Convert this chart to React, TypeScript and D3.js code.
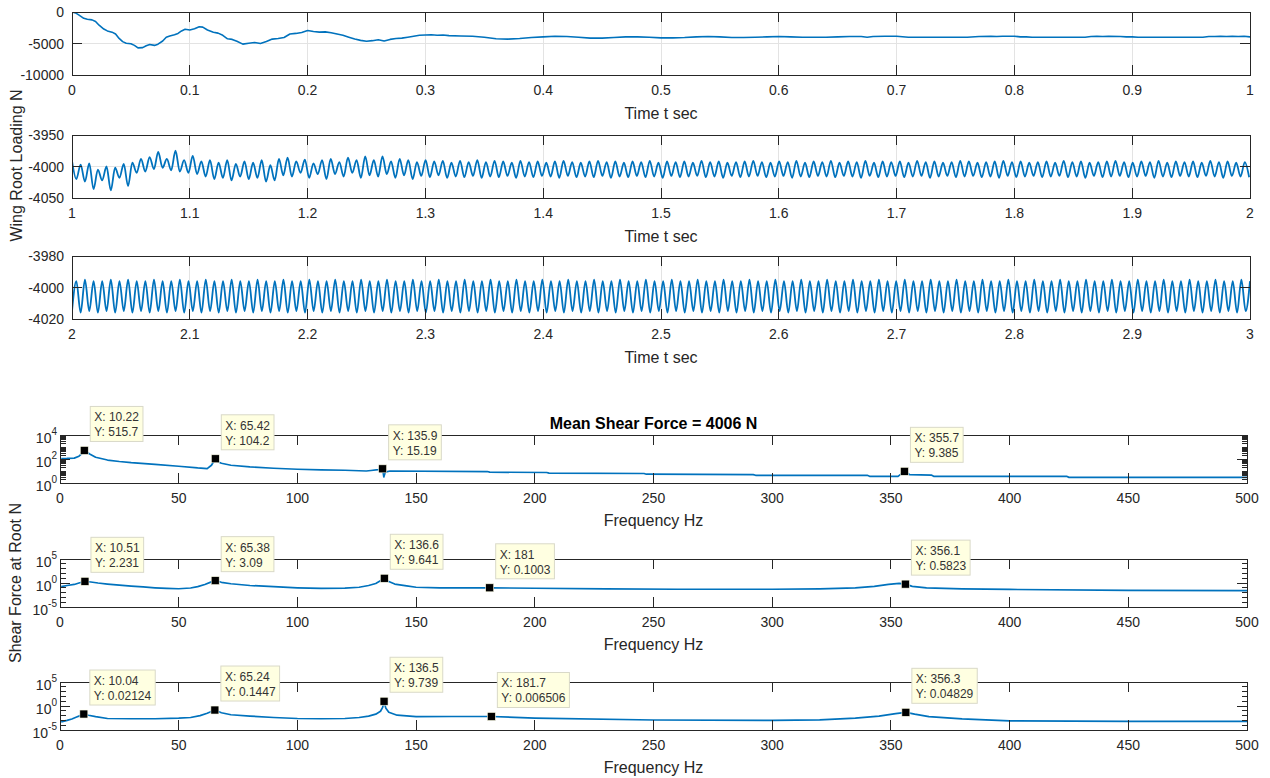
import React from 'react';
import * as d3 from 'd3';

type Pt = [number, number];
type Tip = [number, number, string, string];

const FONT = '"Liberation Sans", Arial, Helvetica, sans-serif';
const INK = '#262626';
const GRID = '#e3e3e3';
const BLUE = '#0072BD';

// ---- time domain data (wing root loading, N) ----
const timeTicks1 = [0, 0.1, 0.2, 0.3, 0.4, 0.5, 0.6, 0.7, 0.8, 0.9, 1];
const timeTicks2 = [1, 1.1, 1.2, 1.3, 1.4, 1.5, 1.6, 1.7, 1.8, 1.9, 2];
const timeTicks3 = [2, 2.1, 2.2, 2.3, 2.4, 2.5, 2.6, 2.7, 2.8, 2.9, 3];
const loadTicks1 = [0, -5000, -10000];
const loadTicks2 = [-3950, -4000, -4050];
const loadTicks3 = [-3980, -4000, -4020];

// 0..1 s, slowly settling load
const load1: Pt[] = [
  [0, 0], [0.003, -150], [0.006, -500], [0.01, -1000], [0.013, -1150], [0.017, -1250], [0.02, -1500],
  [0.023, -2100], [0.027, -2700], [0.03, -3000], [0.034, -3200], [0.037, -3500], [0.04, -4200],
  [0.043, -4700], [0.046, -4950], [0.05, -5050], [0.053, -5300], [0.056, -5700], [0.06, -5650],
  [0.063, -5350], [0.066, -5150], [0.07, -5300], [0.073, -5100], [0.077, -4600], [0.08, -4000],
  [0.083, -3800], [0.087, -3600], [0.09, -3400], [0.093, -3000], [0.096, -2750], [0.1, -2850],
  [0.104, -2650], [0.108, -2350], [0.111, -2400], [0.115, -2850], [0.12, -3200], [0.124, -3350],
  [0.128, -3700], [0.132, -4250], [0.136, -4350], [0.14, -4650], [0.145, -5100], [0.15, -4950],
  [0.155, -4850], [0.16, -5000], [0.165, -4700], [0.17, -4300], [0.175, -4200], [0.18, -4050],
  [0.185, -3500], [0.19, -3400], [0.195, -3250], [0.2, -2950], [0.205, -3100], [0.21, -3200],
  [0.215, -3150], [0.22, -3300], [0.225, -3500], [0.23, -3700], [0.235, -4000], [0.24, -4300],
  [0.245, -4500], [0.25, -4650], [0.255, -4550], [0.26, -4400], [0.265, -4600], [0.27, -4350],
  [0.275, -4200], [0.28, -4150], [0.285, -4000], [0.29, -3850], [0.295, -3700], [0.3, -3650],
  [0.305, -3600], [0.31, -3700], [0.315, -3650], [0.32, -3750], [0.33, -3800], [0.34, -3850],
  [0.35, -4000], [0.36, -4250], [0.37, -4300], [0.38, -4200], [0.39, -4050], [0.4, -3950],
  [0.41, -3850], [0.42, -3900], [0.43, -4000], [0.44, -4150], [0.45, -4150], [0.46, -4050],
  [0.47, -3950], [0.48, -3950], [0.49, -4000], [0.5, -4100], [0.51, -4100], [0.52, -4050],
  [0.53, -3950], [0.54, -3900], [0.55, -3950], [0.56, -4050], [0.57, -4050], [0.58, -4000],
  [0.59, -3950], [0.6, -3900], [0.61, -3950], [0.62, -4000], [0.63, -4000], [0.64, -4000],
  [0.65, -3950], [0.66, -3900], [0.67, -3900], [0.675, -4000], [0.68, -3900], [0.69, -3850],
  [0.7, -3850], [0.71, -4000], [0.72, -4000], [0.74, -4000], [0.76, -4000], [0.77, -3900],
  [0.78, -3850], [0.785, -3900], [0.79, -3850], [0.8, -3850], [0.805, -3950], [0.81, -3950],
  [0.815, -4000], [0.83, -4000], [0.85, -4000], [0.86, -4000], [0.865, -3900], [0.87, -3850],
  [0.875, -3900], [0.88, -3850], [0.89, -3900], [0.895, -3950], [0.9, -3950], [0.905, -4000],
  [0.92, -4000], [0.94, -4000], [0.96, -4000], [0.965, -3900], [0.97, -3900], [0.975, -3850],
  [0.98, -3900], [0.985, -3850], [0.99, -3900], [0.995, -3850], [1.0, -3950],
];

// 1..2 s, peak/trough values of each half cycle (136.6 Hz)
const waveFreq2 = 136.6;
const load2 = [
  -3991, -4020, -3997, -4024, -3995, -4036, -4005, -4022, -4000, -4038,
  -4002, -4018, -3996, -4031, -3994, -4010, -3988, -4008, -3985, -4004,
  -3977, -4002, -3988, -4006, -3975, -4008, -3990, -4010, -3983, -4012,
  -3992, -4016, -3990, -4020, -3994, -4018, -3990, -4022, -3996, -4016,
  -3992, -4020, -3994, -4018, -3990, -4024, -3998, -4022, -3988, -4014,
  -3986, -4016, -3992, -4010, -3989, -4018, -3995, -4012, -3990, -4020,
  -3988, -4012, -3993, -4016, -3986, -4010, -3990, -4018, -3984, -4014,
  -3990, -4016, -3984, -4012, -3992, -4018, -3988, -4014, -3990, -4020,
  -3993, -4015, -3990, -4017, -3992, -4014, -3991, -4018, -3994, -4016,
  -3991, -4017, -3993, -4015, -3990, -4018, -3993, -4016, -3991, -4017,
  -3992, -4015, -3994, -4018, -3991, -4016, -3993, -4017, -3992, -4015,
  -3994, -4016, -3992, -4018, -3991, -4015, -3993, -4017, -3994, -4016,
  -3992, -4017, -3991, -4015, -3993, -4018, -3992, -4016, -3994, -4017,
  -3992, -4015, -3993, -4017, -3991, -4016, -3994, -4018, -3992, -4015,
  -3993, -4017, -3992, -4016, -3994, -4015, -3991, -4017, -3993, -4016,
  -3992, -4018, -3994, -4015, -3993, -4017, -3992, -4016, -3991, -4015,
  -3993, -4017, -3994, -4016, -3992, -4015, -3993, -4018, -3991, -4016,
  -3994, -4017, -3992, -4015, -3993, -4016, -3991, -4017, -3994, -4015,
  -3992, -4016, -3993, -4018, -3991, -4015, -3994, -4017, -3992, -4016,
  -3993, -4015, -3992, -4017, -3994, -4016, -3991, -4015, -3993, -4018,
  -3992, -4016, -3994, -4015, -3993, -4017, -3991, -4016, -3992, -4015,
  -3994, -4017, -3993, -4016, -3992, -4018, -3991, -4015, -3993, -4017,
  -3992, -4016, -3994, -4015, -3993, -4017, -3992, -4016, -3994, -4015,
  -3991, -4017, -3993, -4016, -3992, -4018, -3994, -4015, -3993, -4017,
  -3992, -4016, -3991, -4015, -3993, -4017, -3994, -4016, -3992, -4015,
  -3993, -4018, -3991, -4016, -3994, -4017, -3992, -4015, -3993, -4016,
  -3992, -4017, -3994, -4015, -3991, -4016, -3993, -4018, -3992, -4015,
  -3994, -4016, -3993, -4017,
];

// 2..3 s, peak/trough values of each half cycle (136.5 Hz)
const waveFreq3 = 136.5;
const load3 = [
  -4015, -3996, -4016, -3995, -4015, -3996, -4016, -3996, -4015, -3995,
  -4016, -3996, -4015, -3995, -4016, -3996, -4015, -3996, -4016, -3995,
  -4015, -3996, -4016, -3996, -4015, -3995, -4016, -3996, -4015, -3996,
  -4016, -3995, -4015, -3996, -4016, -3996, -4015, -3995, -4016, -3996,
  -4015, -3996, -4016, -3995, -4015, -3996, -4016, -3996, -4015, -3995,
  -4016, -3996, -4015, -3996, -4016, -3995, -4015, -3996, -4016, -3996,
  -4015, -3995, -4016, -3996, -4015, -3996, -4016, -3995, -4015, -3996,
  -4016, -3996, -4015, -3995, -4016, -3996, -4015, -3996, -4016, -3995,
  -4015, -3996, -4016, -3996, -4015, -3995, -4016, -3996, -4015, -3996,
  -4016, -3995, -4015, -3996, -4016, -3996, -4015, -3995, -4016, -3996,
  -4015, -3996, -4016, -3995, -4015, -3996, -4016, -3996, -4015, -3995,
  -4016, -3996, -4015, -3996, -4016, -3995, -4015, -3996, -4016, -3996,
  -4015, -3995, -4016, -3996, -4015, -3996, -4016, -3995, -4015, -3996,
  -4016, -3996, -4015, -3995, -4016, -3996, -4015, -3996, -4016, -3995,
  -4015, -3996, -4016, -3996, -4015, -3995, -4016, -3996, -4015, -3996,
  -4016, -3995, -4015, -3996, -4016, -3996, -4015, -3995, -4016, -3996,
  -4015, -3996, -4016, -3995, -4015, -3996, -4016, -3996, -4015, -3995,
  -4016, -3996, -4015, -3996, -4016, -3995, -4015, -3996, -4016, -3996,
  -4015, -3995, -4016, -3996, -4015, -3996, -4016, -3995, -4015, -3996,
  -4016, -3996, -4015, -3995, -4016, -3996, -4015, -3996, -4016, -3995,
  -4015, -3996, -4016, -3996, -4015, -3995, -4016, -3996, -4015, -3996,
  -4016, -3995, -4015, -3996, -4016, -3996, -4015, -3995, -4016, -3996,
  -4015, -3996, -4016, -3995, -4015, -3996, -4016, -3996, -4015, -3995,
  -4016, -3996, -4015, -3996, -4016, -3995, -4015, -3996, -4016, -3996,
  -4015, -3995, -4016, -3996, -4015, -3996, -4016, -3995, -4015, -3996,
  -4016, -3996, -4015, -3995, -4016, -3996, -4015, -3996, -4016, -3995,
  -4015, -3996, -4016, -3996, -4015, -3995, -4016, -3996, -4015, -3996,
  -4016, -3995, -4015, -3996,
];

// ---- frequency domain data (shear force at root, N) ----
const freqTicks = [0, 50, 100, 150, 200, 250, 300, 350, 400, 450, 500];
const shearExp4 = [0, 2, 4];
const shearExp5 = [-5, 0, 5];
const shearExp6 = [-5, 0, 5];

const spec4: Pt[] = [
  [0.5, 110], [3, 112], [6, 118], [8, 170], [9.3, 300], [10.22, 515.7], [11, 420], [12.5, 260],
  [15, 140], [20, 82], [25, 62], [30, 50], [40, 36], [50, 25], [58, 18], [62, 16], [63.8, 30],
  [65.42, 104.2], [66.5, 60], [68, 44], [72, 30], [80, 22], [90, 17], [100, 14], [110, 12.5],
  [120, 11.5], [129, 10], [131, 11], [134, 13], [135.9, 15.19], [136.4, 3.2], [137, 8], [139, 10],
  [180, 9], [181, 8], [205, 7.5], [206, 6.6], [246, 6.2], [247, 5.4], [292, 5.0], [293, 4.4],
  [340, 4.4], [341, 3.6], [353, 3.6], [355.7, 9.385], [358, 4.9], [367, 4.6], [368, 3.6],
  [424, 3.6], [425, 2.95], [500, 2.95],
];
const spec5: Pt[] = [
  [0.5, 0.17], [3, 0.3], [6, 0.5], [8, 1.0], [10.51, 2.231], [13, 1.6], [16, 1.0], [20, 0.6],
  [25, 0.35], [30, 0.23], [35, 0.15], [40, 0.1], [45, 0.075], [50, 0.063], [55, 0.09], [58, 0.18],
  [61, 0.5], [63.5, 1.5], [65.38, 3.09], [68, 1.4], [72, 0.7], [80, 0.3], [90, 0.17], [100, 0.1],
  [110, 0.075], [120, 0.085], [126, 0.13], [130, 0.3], [133, 0.8], [135.5, 4], [136.6, 9.641],
  [138, 2.5], [141, 0.6], [146, 0.25], [150, 0.13], [160, 0.1], [170, 0.1], [181, 0.1003],
  [200, 0.08], [230, 0.06], [260, 0.05], [300, 0.05], [320, 0.06], [335, 0.1], [343, 0.2],
  [349, 0.5], [353.5, 0.8], [356.1, 0.5823], [359, 0.2], [365, 0.1], [380, 0.06], [400, 0.045],
  [450, 0.03], [500, 0.025],
];
const spec6: Pt[] = [
  [0.5, 5e-4], [3, 1e-3], [5, 2e-3], [7, 5e-3], [8.5, 0.01], [10.04, 0.02124], [12, 0.012],
  [15, 0.006], [20, 0.0025], [30, 0.0022], [40, 0.0022], [50, 0.003], [55, 0.004], [59, 0.01],
  [62, 0.03], [65.24, 0.1447], [68, 0.04], [72, 0.015], [80, 0.008], [90, 0.004], [100, 0.0025],
  [110, 0.0022], [120, 0.0025], [126, 0.004], [130, 0.008], [133, 0.02], [135, 0.08],
  [135.9, 0.5], [136.5, 9.739], [137.2, 0.4], [138.5, 0.05], [142, 0.012], [150, 0.006],
  [165, 0.0065], [181.7, 0.006506], [200, 0.003], [250, 0.0012], [300, 0.001], [320, 0.0013],
  [335, 0.003], [345, 0.008], [352, 0.025], [356.3, 0.04829], [360, 0.02], [366, 0.006],
  [380, 0.002], [400, 0.0008], [450, 0.0006], [500, 0.0006],
];

const tips4: Tip[] = [
  [10.22, 515.7, 'X: 10.22', 'Y: 515.7'],
  [65.42, 104.2, 'X: 65.42', 'Y: 104.2'],
  [135.9, 15.19, 'X: 135.9', 'Y: 15.19'],
  [355.7, 9.385, 'X: 355.7', 'Y: 9.385'],
];
const tips5: Tip[] = [
  [10.51, 2.231, 'X: 10.51', 'Y: 2.231'],
  [65.38, 3.09, 'X: 65.38', 'Y: 3.09'],
  [136.6, 9.641, 'X: 136.6', 'Y: 9.641'],
  [181, 0.1003, 'X: 181', 'Y: 0.1003'],
  [356.1, 0.5823, 'X: 356.1', 'Y: 0.5823'],
];
const tips6: Tip[] = [
  [10.04, 0.02124, 'X: 10.04', 'Y: 0.02124'],
  [65.24, 0.1447, 'X: 65.24', 'Y: 0.1447'],
  [136.5, 9.739, 'X: 136.5', 'Y: 9.739'],
  [181.7, 0.006506, 'X: 181.7', 'Y: 0.006506'],
  [356.3, 0.04829, 'X: 356.3', 'Y: 0.04829'],
];

let ctx: CanvasRenderingContext2D | null = null;
function textWidth(s: string, font: string) {
  if (!ctx) ctx = document.createElement('canvas').getContext('2d');
  if (!ctx) return s.length * 6.5;
  ctx.font = font;
  return ctx.measureText(s).width;
}

const TL = 72, TR = 1250;
const FL = 60, FR = 1247;
const TICK = 10;

function TimePanel({ id, top, bottom, xTicks, yTicks, pts, smooth }: {
  id: string; top: number; bottom: number; xTicks: number[]; yTicks: number[]; pts: Pt[]; smooth?: boolean;
}) {
  const x = d3.scaleLinear().domain([xTicks[0], xTicks[xTicks.length - 1]]).range([TL, TR]);
  const y = d3.scaleLinear().domain(d3.extent(yTicks) as [number, number]).range([bottom, top]);
  const line = d3.line<Pt>().x(d => x(d[0])).y(d => y(d[1]))
    .curve(smooth ? d3.curveMonotoneX : d3.curveLinear);
  return (
    <g>
      <clipPath id={id}><rect x={TL} y={top} width={TR - TL} height={bottom - top} /></clipPath>
      <g shapeRendering="crispEdges">
        {xTicks.slice(1, -1).map(t => (
          <line key={'gx' + t} x1={x(t)} x2={x(t)} y1={top} y2={bottom} stroke={GRID} />
        ))}
        {yTicks.map(t => (
          <line key={'gy' + t} x1={TL} x2={TR} y1={y(t)} y2={y(t)} stroke={GRID} />
        ))}
      </g>
      <path d={line(pts) || ''} fill="none" stroke={BLUE} strokeWidth={smooth ? 1.8 : 1.6}
        strokeLinejoin="round" clipPath={`url(#${id})`} />
      <g shapeRendering="crispEdges" stroke={INK}>
        <rect x={TL} y={top} width={TR - TL} height={bottom - top} fill="none" />
        {xTicks.map(t => (
          <g key={'tx' + t}>
            <line x1={x(t)} x2={x(t)} y1={bottom} y2={bottom - TICK} />
            <line x1={x(t)} x2={x(t)} y1={top} y2={top + TICK} />
          </g>
        ))}
        {yTicks.map(t => (
          <g key={'ty' + t}>
            <line x1={TL} x2={TL + TICK} y1={y(t)} y2={y(t)} />
            <line x1={TR} x2={TR - TICK} y1={y(t)} y2={y(t)} />
          </g>
        ))}
      </g>
      <g fontFamily={FONT} fontSize={14} fill={INK}>
        {xTicks.map(t => (
          <text key={'lx' + t} x={x(t)} y={bottom + 15} textAnchor="middle" dominantBaseline="central">{String(t)}</text>
        ))}
        {yTicks.map(t => (
          <text key={'ly' + t} x={TL - 8} y={y(t)} textAnchor="end" dominantBaseline="central">{String(t)}</text>
        ))}
        <text x={(TL + TR) / 2} y={bottom + 38} fontSize={16} textAnchor="middle" dominantBaseline="central">Time t sec</text>
      </g>
    </g>
  );
}

function FreqPanel({ id, top, bottom, exps, denseMinor, pts, tips, title }: {
  id: string; top: number; bottom: number; exps: number[]; denseMinor: boolean; pts: Pt[]; tips: Tip[]; title?: string;
}) {
  const x = d3.scaleLinear().domain([freqTicks[0], freqTicks[freqTicks.length - 1]]).range([FL, FR]);
  const lo = exps[0], hi = exps[exps.length - 1];
  const y = d3.scaleLog().domain([10 ** lo, 10 ** hi]).range([bottom, top]);
  const line = d3.line<Pt>().x(d => x(d[0])).y(d => y(d[1]));
  const minor: number[] = [];
  for (let e = lo; e < hi; e++) {
    if (denseMinor) {
      for (let m = 2; m <= 9; m++) minor.push(m * 10 ** e);
    } else if (e > lo && !exps.includes(e)) {
      minor.push(10 ** e);
    }
  }
  const tipFont = `12px ${FONT}`;
  return (
    <g>
      <clipPath id={id}><rect x={FL} y={top - 2} width={FR - FL} height={bottom - top + 4} /></clipPath>
      <path d={line(pts) || ''} fill="none" stroke={BLUE} strokeWidth={1.7}
        strokeLinejoin="round" clipPath={`url(#${id})`} />
      <g shapeRendering="crispEdges" stroke={INK}>
        <rect x={FL} y={top} width={FR - FL} height={bottom - top} fill="none" />
        {freqTicks.map(t => (
          <g key={'tx' + t}>
            <line x1={x(t)} x2={x(t)} y1={bottom} y2={bottom - TICK} />
            <line x1={x(t)} x2={x(t)} y1={top} y2={top + TICK} />
          </g>
        ))}
        {exps.map(e => (
          <g key={'ty' + e}>
            <line x1={FL} x2={FL + TICK} y1={y(10 ** e)} y2={y(10 ** e)} />
            <line x1={FR} x2={FR - TICK} y1={y(10 ** e)} y2={y(10 ** e)} />
          </g>
        ))}
        {minor.map(v => (
          <g key={'my' + v}>
            <line x1={FL} x2={FL + 5.5} y1={y(v)} y2={y(v)} />
            <line x1={FR} x2={FR - 5.5} y1={y(v)} y2={y(v)} />
          </g>
        ))}
      </g>
      <g fontFamily={FONT} fontSize={14} fill={INK}>
        {freqTicks.map(t => (
          <text key={'lx' + t} x={x(t)} y={bottom + 15} textAnchor="middle" dominantBaseline="central">{String(t)}</text>
        ))}
        {exps.map(e => (
          <text key={'ly' + e} x={FL - 3} y={y(10 ** e) + 3} textAnchor="end" dominantBaseline="central">
            <tspan>10</tspan><tspan dy={-7} fontSize={10}>{String(e)}</tspan>
          </text>
        ))}
        <text x={(FL + FR) / 2} y={bottom + 37} fontSize={16} textAnchor="middle" dominantBaseline="central">Frequency Hz</text>
        {title && (
          <text x={(FL + FR) / 2} y={top - 12} fontSize={16} fontWeight="bold" fill="#000"
            textAnchor="middle" dominantBaseline="central">{title}</text>
        )}
      </g>
      {tips.map(([fx, fy, lx, ly]) => {
        const mx = x(fx), my = y(fy);
        const w = Math.max(textWidth(lx, tipFont), textWidth(ly, tipFont)) + 8;
        const h = 35;
        const bx = mx + 6, by = my - 9 - h;
        return (
          <g key={lx}>
            <rect x={bx} y={by} width={w} height={h} fill="#ffffe1" stroke="#d9d9c8" strokeWidth={1} />
            <text x={bx + 4} y={by + 11} fontFamily={FONT} fontSize={12} fill="#333" dominantBaseline="central">{lx}</text>
            <text x={bx + 4} y={by + 26} fontFamily={FONT} fontSize={12} fill="#333" dominantBaseline="central">{ly}</text>
            <rect x={mx - 4} y={my - 4} width={8} height={8} fill="#000" stroke="#fdfde8" strokeWidth={0.6} />
          </g>
        );
      })}
    </g>
  );
}

function wavePoints(start: number, freq: number, vals: number[]): Pt[] {
  const dt = 1 / (2 * freq);
  return vals.map((v, i) => [start + i * dt, v] as Pt);
}

export default function App() {
  const pts2 = wavePoints(1, waveFreq2, load2);
  const pts3 = wavePoints(2, waveFreq3, load3);
  return (
    <svg width={1270} height={778} viewBox="0 0 1270 778"
      style={{ position: 'absolute', left: 0, top: 0, background: '#fff' }}>
      <rect width={1270} height={778} fill="#fff" />
      <TimePanel id="c1" top={12} bottom={75} xTicks={timeTicks1} yTicks={loadTicks1} pts={load1} />
      <TimePanel id="c2" top={135} bottom={198} xTicks={timeTicks2} yTicks={loadTicks2} pts={pts2} smooth />
      <TimePanel id="c3" top={256} bottom={319} xTicks={timeTicks3} yTicks={loadTicks3} pts={pts3} smooth />
      <text transform="translate(16,165.5) rotate(-90)" fontFamily={FONT} fontSize={16} fill={INK}
        textAnchor="middle" dominantBaseline="central">Wing Root Loading N</text>

      <FreqPanel id="c4" top={435} bottom={483} exps={shearExp4} denseMinor pts={spec4} tips={tips4}
        title="Mean Shear Force = 4006 N" />
      <FreqPanel id="c5" top={559} bottom={607} exps={shearExp5} denseMinor={false} pts={spec5} tips={tips5} />
      <FreqPanel id="c6" top={682} bottom={730} exps={shearExp6} denseMinor={false} pts={spec6} tips={tips6} />
      <text transform="translate(15,583) rotate(-90)" fontFamily={FONT} fontSize={16} fill={INK}
        textAnchor="middle" dominantBaseline="central">Shear Force at Root N</text>
    </svg>
  );
}
